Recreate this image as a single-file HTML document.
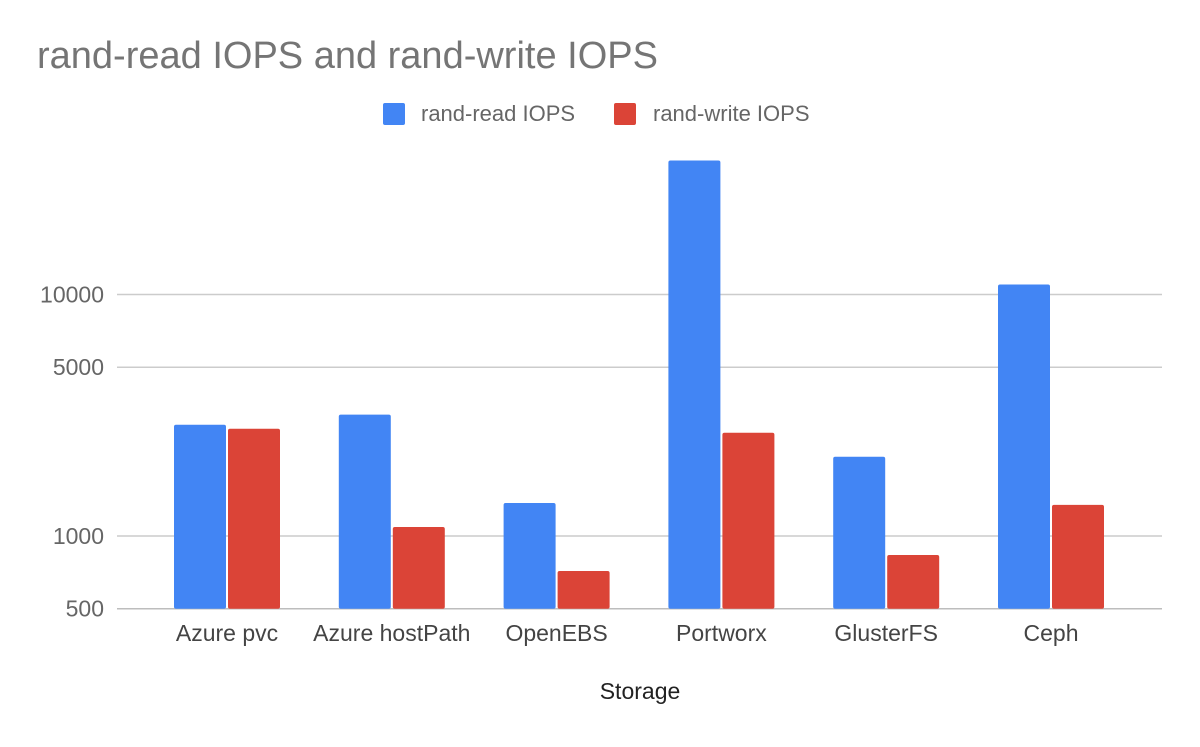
<!DOCTYPE html>
<html><head><meta charset="utf-8"><style>
body{margin:0;background:#fff;font-family:"Liberation Sans",Arial,sans-serif}
</style></head><body>
<svg width="1200" height="742" xmlns="http://www.w3.org/2000/svg">
<rect width="1200" height="742" fill="#fff"/>
<text x="37" y="68" font-size="38" fill="#757575">rand-read IOPS and rand-write IOPS</text>
<g>
<rect x="383" y="103" width="22" height="22" rx="2" fill="#4285f4"/>
<text x="421" y="121" font-size="22" fill="#666">rand-read IOPS</text>
<rect x="614" y="103" width="22" height="22" rx="2" fill="#db4437"/>
<text x="653" y="121" font-size="22" fill="#666">rand-write IOPS</text>
</g>
<g id="grid"></g><g id="bars"></g><g id="xl"></g>
<text x="640" y="699" font-size="23" fill="#222" text-anchor="middle">Storage</text>
</svg>
<script>
const categories=["Azure pvc","Azure hostPath","OpenEBS","Portworx","GlusterFS","Ceph"];
const readIops=[2890,3180,1370,35900,2130,11000];
const writeIops=[2780,1090,716,2675,834,1345];
const ticks=[500,1000,5000,10000];
const tickLabels=["500","1000","5000","10000"];
const NS="http://www.w3.org/2000/svg";
function y(v){return 608.7-(Math.log10(v)-Math.log10(500))*241.5;}
const L=144.6,S=164.8;
function mk(t,a,p){const e=document.createElementNS(NS,t);for(const k in a)e.setAttribute(k,a[k]);p.appendChild(e);return e;}
const g=document.getElementById('grid');
ticks.forEach((t,i)=>{
 const l=mk('line',{x1:117,x2:1162,y1:y(t),y2:y(t),stroke:t===500?'#bdbdbd':'#ccc','stroke-width':1.5},g);
 
 
 const tx=mk('text',{x:104,y:y(t)+8,'font-size':23,fill:'#666','text-anchor':'end'},g);
 tx.textContent=tickLabels[i];
 
 
});
const b=document.getElementById('bars'),xl=document.getElementById('xl');
categories.forEach((c,i)=>{
 const cx=L+S*(i+0.5);
 const r=mk('rect',{x:cx-53,width:52,y:y(readIops[i]),height:y(500)-y(readIops[i]),fill:'#4285f4',rx:2},b);
 
 
 const w=mk('rect',{x:cx+1,width:52,y:y(writeIops[i]),height:y(500)-y(writeIops[i]),fill:'#db4437',rx:2},b);
 
 
 const t=mk('text',{x:cx,y:641,'font-size':23,fill:'#444','text-anchor':'middle'},xl);
 t.textContent=c;
 
 
});
</script>
</body></html>
